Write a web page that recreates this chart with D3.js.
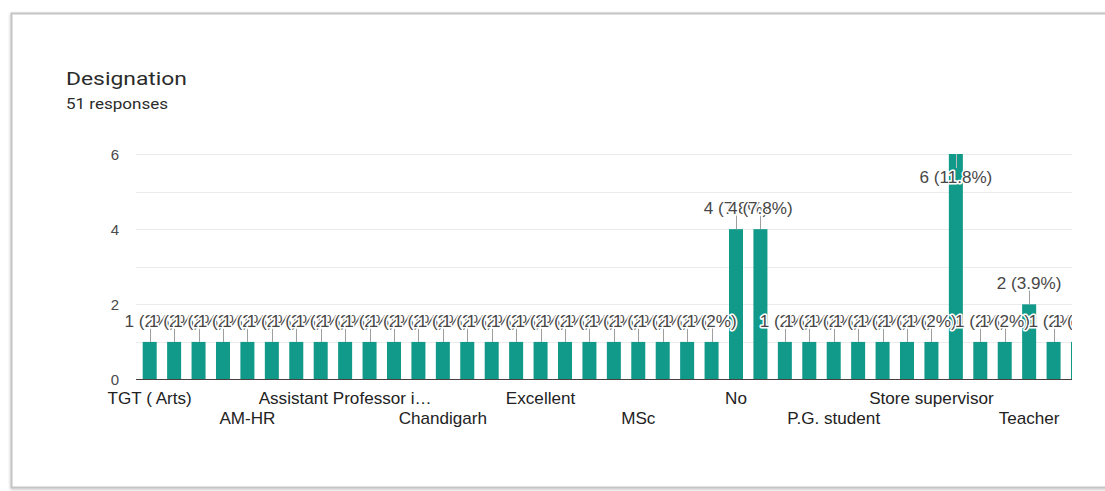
<!DOCTYPE html>
<html>
<head>
<meta charset="utf-8">
<script src="https://cdn.jsdelivr.net/npm/d3@7"></script>
<style>
  html, body { margin: 0; padding: 0; background: #ffffff; }
  svg { display: block; }
</style>
</head>
<body>
<div id="chart"></div>
<script>
// ---- Data ----
const titleText = "Designation";
const categories = [
  " TGT ( Arts)", "AEO", "Accountant", "Admin", "AM-HR", "Assistant", "Assistant Manager",
  "Assistant Professor", "Assistant Professor in Commerce", "Associate Professor", "Bank officer",
  "Business", "Chandigarh", "Clerk", "Doctor", "Engineer", "Excellent", "Executive", "HR",
  "Lecturer", "MSc", "Manager", "Marketing", "NA", "No", "None", "Nurse", "Officer",
  "P.G. student", "PGT", "Principal", "Research Scholar", "Store supervisor", "Student",
  "Supervisor", "TGT", "Teacher", "Teacher PRT", "Trainee"
];
const counts = [
  1, 1, 1, 1, 1, 1, 1, 1, 1, 1, 1, 1, 1, 1, 1, 1, 1, 1, 1, 1, 1, 1, 1, 1,
  4, 4,
  1, 1, 1, 1, 1, 1, 1,
  6,
  1, 1,
  2,
  1, 1
];
const yTickValues = [0, 2, 4, 6];
const yGridValues = [1, 2, 3, 4, 5, 6];

// ---- Layout ----
const W = 1105, H = 491;
const plotLeft = 136, plotRight = 1072, plotTop = 154, plotBottom = 379.5;
const fullRight = 1091.7; // the chart continues past the visible (clipped) area
const barColor = "#11998a";
const textScale = 1.07;

const total = d3.sum(counts);

const svg = d3.select("#chart").append("svg")
  .attr("width", W).attr("height", H)
  .style("font-family", "'Liberation Sans', Arial, sans-serif");

const defs = svg.append("defs");
const shadow = defs.append("filter").attr("id", "shadow")
  .attr("x", "-5%").attr("y", "-5%").attr("width", "110%").attr("height", "110%");
shadow.append("feDropShadow").attr("dx", 0).attr("dy", 1).attr("stdDeviation", 1.5)
  .attr("flood-color", "#000").attr("flood-opacity", 0.25);
defs.append("clipPath").attr("id", "plotClip").append("rect")
  .attr("x", 0).attr("y", 0).attr("width", plotRight).attr("height", H);

// Card
svg.append("rect")
  .attr("x", 11.5).attr("y", 13.5).attr("width", 1200).attr("height", 474)
  .attr("fill", "#ffffff").attr("stroke", "#c4c4c4").attr("stroke-width", 2)
  .attr("filter", "url(#shadow)");

// Title & subtitle
svg.append("text").attr("x", 66).attr("y", 85)
  .attr("font-family", "Roboto, 'Liberation Sans', sans-serif")
  .attr("font-size", 19).attr("fill", "#2b2b2b")
  .attr("textLength", 121).attr("lengthAdjust", "spacingAndGlyphs")
  .text(titleText);
svg.append("text").attr("x", 66).attr("y", 109)
  .attr("font-family", "Roboto, 'Liberation Sans', sans-serif")
  .attr("font-size", 15).attr("fill", "#2b2b2b")
  .attr("textLength", 102).attr("lengthAdjust", "spacingAndGlyphs")
  .text(total + " responses");

// Scales
const x = d3.scaleBand().domain(categories)
  .range([plotLeft, fullRight]).paddingInner(0.427).paddingOuter(0.274);
const y = d3.scaleLinear().domain([0, 6]).range([plotBottom, plotTop]);

const plot = svg.append("g").attr("clip-path", "url(#plotClip)");

// Gridlines
plot.append("g").selectAll("line").data(yGridValues).join("line")
  .attr("x1", plotLeft).attr("x2", plotRight)
  .attr("y1", d => Math.round(y(d)) + 0.5).attr("y2", d => Math.round(y(d)) + 0.5)
  .attr("stroke", "#ebebeb").attr("stroke-width", 1);

// Y axis labels
const yAxis = d3.axisLeft(y).tickValues(yTickValues).tickSize(0).tickPadding(0).tickFormat(d3.format("d"));
const yG = svg.append("g").attr("transform", `translate(119,0)`).call(yAxis);
yG.select(".domain").remove();
yG.selectAll("text").attr("font-size", 15).attr("fill", "#4a4a4a")
  .attr("font-family", "'Liberation Sans', Arial, sans-serif").attr("dy", "0.36em");

// Bars
plot.append("g").selectAll("rect").data(categories).join("rect")
  .attr("x", d => x(d)).attr("width", x.bandwidth())
  .attr("y", (d, i) => y(counts[i]))
  .attr("height", (d, i) => plotBottom - y(counts[i]))
  .attr("fill", barColor);

// Baseline
svg.append("line").attr("x1", plotLeft).attr("x2", plotRight)
  .attr("y1", plotBottom).attr("y2", plotBottom)
  .attr("stroke", "#4a3f3f").attr("stroke-width", 1.2);

// Annotations
function pctLabel(v) {
  const p = Math.round(v / total * 1000) / 10;
  return v + " (" + p + "%)";
}
const ann = categories.map((c, i) => {
  const top = y(counts[i]);
  const cx = x(c) + x.bandwidth() / 2;
  const inside = top - 30 < plotTop - 2;
  return {
    cx, top, inside,
    lineY2: inside ? top + 14 : top - 14,
    baseY: inside ? top + 29 : top - 15,
    text: pctLabel(counts[i])
  };
});
plot.append("g").selectAll("line").data(ann).join("line")
  .attr("x1", d => Math.round(d.cx) + 0.5).attr("x2", d => Math.round(d.cx) + 0.5)
  .attr("y1", d => d.top).attr("y2", d => d.lineY2)
  .attr("stroke", d => d.inside ? "#bdbdbd" : "#9e9e9e").attr("stroke-width", 1);
plot.append("g").selectAll("text").data(ann).join("text")
  .attr("transform", d => `translate(${d.cx},${d.baseY}) scale(${textScale},1)`)
  .attr("text-anchor", "middle")
  .attr("font-size", 16).attr("fill", "#474747")
  .attr("stroke", "#ffffff").attr("stroke-width", 3).attr("paint-order", "stroke")
  .attr("stroke-linejoin", "round")
  .text(d => d.text);

// X axis labels (every 4th, alternating rows)
function truncate(s) {
  s = s.trim();
  return s.length > 21 ? s.slice(0, 21) + "\u2026" : s;
}
const xAxis = d3.axisBottom(x).tickSize(0).tickPadding(0)
  .tickValues(categories.filter((c, i) => i % 4 === 0))
  .tickFormat(truncate);
const xG = svg.append("g").attr("transform", `translate(0,${plotBottom})`).call(xAxis);
xG.select(".domain").remove();
xG.selectAll(".tick text")
  .attr("font-family", "'Liberation Sans', Arial, sans-serif")
  .attr("font-size", 16).attr("fill", "#222222")
  .attr("dy", null)
  .attr("y", (d) => (categories.indexOf(d) / 4) % 2 === 0 ? 24.5 : 44.5)
  .attr("transform", (d) => {
    const yy = (categories.indexOf(d) / 4) % 2 === 0 ? 24.5 : 44.5;
    return `translate(0,${yy}) scale(${textScale},1) translate(0,${-yy})`;
  });
</script>
</body>
</html>
